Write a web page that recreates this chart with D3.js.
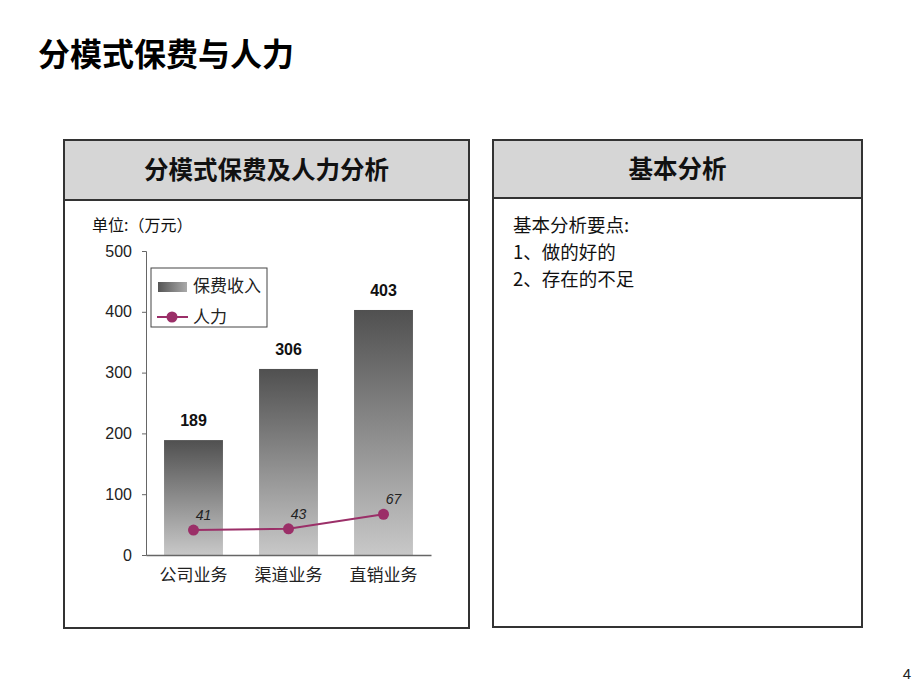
<!DOCTYPE html>
<html><head><meta charset="utf-8">
<script src="https://cdn.jsdelivr.net/npm/d3@7"></script>
<style>body{margin:0;background:#fff}svg{display:block}</style>
</head><body>
<script>
const categories = ["公司业务", "渠道业务", "直销业务"];
const premium = [189, 306, 403];
const staff = [41, 43, 67];
const yTicks = [0, 100, 200, 300, 400, 500];
const seriesNames = ["保费收入", "人力"];
const notes = ["基本分析要点:", "1、做的好的", "2、存在的不足"];

const W = 920, H = 691;
const svg = d3.select("body").append("svg").attr("width", W).attr("height", H);
const defs = svg.append("defs");
const g1 = defs.append("linearGradient").attr("id", "barGrad").attr("x1", 0).attr("y1", 0).attr("x2", 0).attr("y2", 1);
g1.append("stop").attr("offset", "0%").attr("stop-color", "#505050");
g1.append("stop").attr("offset", "100%").attr("stop-color", "#c8c8c8");
const g2 = defs.append("linearGradient").attr("id", "legGrad").attr("x1", 0).attr("y1", 0).attr("x2", 1).attr("y2", 0);
g2.append("stop").attr("offset", "0%").attr("stop-color", "#555");
g2.append("stop").attr("offset", "100%").attr("stop-color", "#aaa");

const sans = "'Noto Sans CJK SC', 'Noto Sans', sans-serif";
const latin = "'Liberation Sans', Arial, sans-serif";

// Page title
svg.append("text").attr("x", 38).attr("y", 66).attr("font-family", sans)
  .attr("font-weight", "bold").attr("font-size", 32).attr("fill", "#000").text("分模式保费与人力");

// Panels
function panel(x, y, w, h, hh, title) {
  svg.append("rect").attr("x", x).attr("y", y).attr("width", w).attr("height", hh)
    .attr("fill", "#d6d6d6");
  svg.append("rect").attr("x", x).attr("y", y).attr("width", w).attr("height", h)
    .attr("fill", "none").attr("stroke", "#333").attr("stroke-width", 2);
  svg.append("line").attr("x1", x).attr("x2", x + w).attr("y1", y + hh).attr("y2", y + hh)
    .attr("stroke", "#333").attr("stroke-width", 2);
  svg.append("text").attr("x", x + w / 2).attr("y", y + hh / 2 + 9).attr("text-anchor", "middle")
    .attr("font-family", sans).attr("font-weight", "bold").attr("font-size", 24.5).attr("fill", "#111").text(title);
}
panel(64, 140, 405, 488, 60, "分模式保费及人力分析");
panel(493, 140, 369, 487, 58, "基本分析");

// Notes
svg.append("g").selectAll("text").data(notes).join("text")
  .attr("x", 513).attr("y", (d, i) => 232 + i * 27)
  .attr("font-family", sans).attr("font-size", 18.5).attr("fill", "#111").text(d => d);

// Unit
svg.append("text").attr("x", 92).attr("y", 231).attr("font-family", sans)
  .attr("font-size", 16).attr("fill", "#111").text("单位:（万元）");

// Scales
const x = d3.scaleBand().domain(categories).range([146, 431]).paddingInner(0.38).paddingOuter(0.19);
const y = d3.scaleLinear().domain([0, 500]).range([555, 251]);

// Y axis
const yAxis = svg.append("g").attr("transform", "translate(146,0)")
  .call(d3.axisLeft(y).tickValues(yTicks).tickSize(4).tickPadding(10));
yAxis.select(".domain").attr("stroke", "#666").attr("stroke-width", 1);
yAxis.selectAll(".tick line").attr("stroke", "#666");
yAxis.selectAll("text").attr("font-family", latin).attr("font-size", 16).attr("fill", "#222");

// Bars
svg.append("g").selectAll("rect").data(premium).join("rect")
  .attr("x", (d, i) => x(categories[i])).attr("width", x.bandwidth())
  .attr("y", d => y(d)).attr("height", d => y(0) - y(d))
  .attr("fill", "url(#barGrad)");

// Bar labels
svg.append("g").selectAll("text").data(premium).join("text")
  .attr("x", (d, i) => x(categories[i]) + x.bandwidth() / 2).attr("y", d => y(d) - 14)
  .attr("text-anchor", "middle").attr("font-family", latin).attr("font-weight", "bold")
  .attr("font-size", 16).attr("fill", "#111").text(d => d);

// X axis
const xAxis = svg.append("g").attr("transform", "translate(0,555)")
  .call(d3.axisBottom(x).tickSize(0).tickPadding(14));
xAxis.select(".domain").attr("stroke", "#666").attr("stroke-width", 1.5);
xAxis.selectAll("text").attr("font-family", sans).attr("font-size", 17).attr("fill", "#222");

// Line
const cx = (d, i) => x(categories[i]) + x.bandwidth() / 2;
const lineColor = "#9b2f68";
svg.append("path").datum(staff)
  .attr("d", d3.line().x(cx).y(d => y(d)))
  .attr("fill", "none").attr("stroke", lineColor).attr("stroke-width", 2);
svg.append("g").selectAll("circle").data(staff).join("circle")
  .attr("cx", cx).attr("cy", d => y(d)).attr("r", 5.5).attr("fill", lineColor);
svg.append("g").selectAll("text").data(staff).join("text")
  .attr("x", (d, i) => cx(d, i) + 10).attr("y", d => y(d) - 10)
  .attr("text-anchor", "middle").attr("font-family", latin).attr("font-style", "italic")
  .attr("font-size", 14).attr("fill", "#222").text(d => d);

// Legend
const leg = svg.append("g");
leg.append("rect").attr("x", 151).attr("y", 268).attr("width", 116).attr("height", 59)
  .attr("fill", "#fff").attr("stroke", "#444").attr("stroke-width", 1);
leg.append("rect").attr("x", 158).attr("y", 282).attr("width", 29).attr("height", 10).attr("fill", "url(#legGrad)");
leg.append("line").attr("x1", 157).attr("x2", 188).attr("y1", 317).attr("y2", 317)
  .attr("stroke", lineColor).attr("stroke-width", 2);
leg.append("circle").attr("cx", 172).attr("cy", 317).attr("r", 5.5).attr("fill", lineColor);
leg.selectAll("text.lt").data(seriesNames).join("text").attr("class", "lt")
  .attr("x", 193).attr("y", (d, i) => 292 + i * 31)
  .attr("font-family", sans).attr("font-size", 17).attr("fill", "#222").text(d => d);

// Page number
svg.append("text").attr("x", 911).attr("y", 679).attr("text-anchor", "end")
  .attr("font-family", latin).attr("font-size", 15).attr("fill", "#222").text("4");
</script>
</body></html>
